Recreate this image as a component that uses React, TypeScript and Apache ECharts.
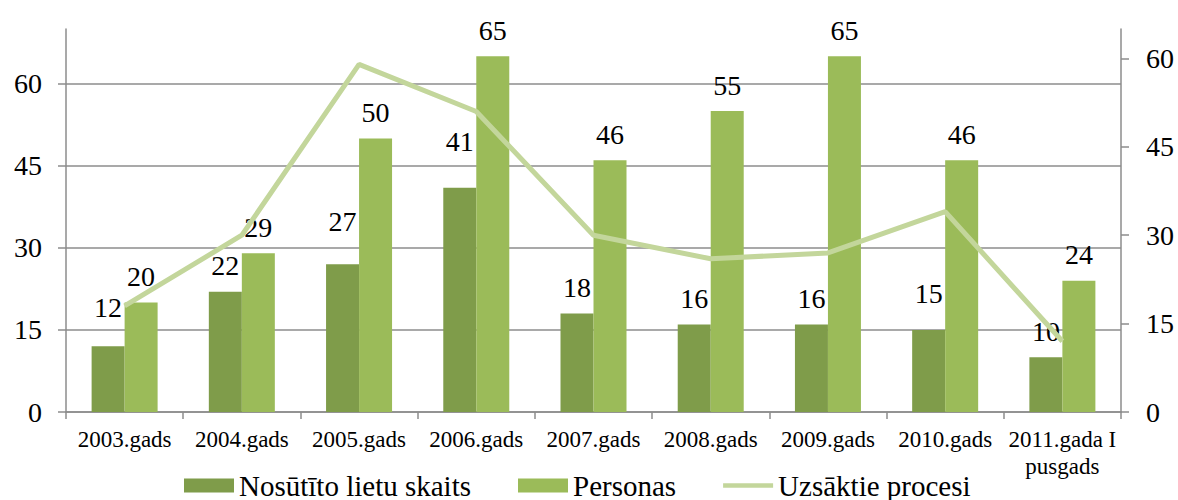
import React, { useEffect, useRef } from "react";
import * as echarts from "echarts";

const categories = [
  "2003.gads",
  "2004.gads",
  "2005.gads",
  "2006.gads",
  "2007.gads",
  "2008.gads",
  "2009.gads",
  "2010.gads",
  "2011.gada I\npusgads",
];
const nosutitoValues = [12, 22, 27, 41, 18, 16, 16, 15, 10];
const personasValues = [20, 29, 50, 65, 46, 55, 65, 46, 24];
const uzsaktieValues = [18, 30, 59, 51, 30, 26, 27, 34, 12];
const leftTicks = { min: 0, max: 70, interval: 15 };
const rightTicks = { min: 0, max: 65, interval: 15 };

const FONT = "Liberation Serif, serif";

export default function App() {
  const ref = useRef<HTMLDivElement>(null);
  useEffect(() => {
    document.body.style.margin = "0";
    const chart = echarts.init(ref.current!, null, { renderer: "svg" });
    const labelLift = [13, 0, 17, 20, 0, 0, 0, 10, 0];
    const axisGray = "#8c8c8c";
    const lineColor = "#c3d69b";
    chart.setOption({
      animation: false,
      textStyle: { fontFamily: FONT, color: "#000" },
      grid: { left: 66, right: 57, top: 29, bottom: 88 },
      legend: {
        left: 184,
        top: 471,
        padding: 0,
        itemWidth: 50,
        itemHeight: 14,
        itemGap: 47,
        textStyle: { fontFamily: FONT, fontSize: 29, color: "#000", lineHeight: 28 },
        data: [
          { name: "Nosūtīto lietu skaits", icon: "rect" },
          { name: "Personas", icon: "rect" },
          {
            name: "Uzsāktie procesi",
            icon: "path://M0,0 L53,0 L53,5 L0,5 Z",
            itemStyle: { color: lineColor },
          },
        ],
      },
      xAxis: {
        type: "category",
        data: categories,
        axisLine: { lineStyle: { color: axisGray, width: 1.5 } },
        axisTick: { show: true, length: 7, alignWithLabel: false, lineStyle: { color: axisGray, width: 1.5 } },
        axisLabel: {
          interval: 0,
          margin: 14,
          fontFamily: FONT,
          fontSize: 23,
          lineHeight: 27,
          color: "#000",
        },
      },
      yAxis: [
        {
          type: "value",
          min: leftTicks.min,
          max: leftTicks.max,
          interval: leftTicks.interval,
          axisLine: { show: true, lineStyle: { color: axisGray, width: 1.5 } },
          axisTick: { show: true, length: 8, lineStyle: { color: axisGray, width: 1.5 } },
          splitLine: { show: true, showMaxLine: false, lineStyle: { color: axisGray, width: 1.5 } },
          axisLabel: { margin: 24, fontFamily: FONT, fontSize: 28, color: "#000", showMaxLabel: false },
        },
        {
          type: "value",
          position: "right",
          min: rightTicks.min,
          max: rightTicks.max,
          interval: rightTicks.interval,
          axisLine: { show: true, lineStyle: { color: axisGray, width: 1.5 } },
          axisTick: { show: true, length: 8, lineStyle: { color: axisGray, width: 1.5 } },
          splitLine: { show: false },
          axisLabel: { margin: 25, fontFamily: FONT, fontSize: 28, color: "#000", showMaxLabel: false },
        },
      ],
      series: [
        {
          name: "Nosūtīto lietu skaits",
          type: "bar",
          yAxisIndex: 0,
          barWidth: 33,
          barGap: "0%",
          itemStyle: { color: "#7f9c4a" },
          label: {
            show: true,
            position: "top",
            distance: 12,
            fontFamily: FONT,
            fontSize: 28,
            color: "#000",
          },
          data: nosutitoValues.map((v, i) => ({
            value: v,
            label: { offset: [0, -labelLift[i]] },
          })),
        },
        {
          name: "Personas",
          type: "bar",
          yAxisIndex: 0,
          barWidth: 33,
          barGap: "0%",
          itemStyle: { color: "#9bbb59" },
          label: {
            show: true,
            position: "top",
            distance: 12,
            fontFamily: FONT,
            fontSize: 28,
            color: "#000",
          },
          data: personasValues,
        },
        {
          name: "Uzsāktie procesi",
          type: "line",
          yAxisIndex: 1,
          symbol: "none",
          showSymbol: false,
          lineStyle: { color: lineColor, width: 5 },
          itemStyle: { color: lineColor },
          data: uzsaktieValues,
          z: 5,
        },
      ],
    });
    return () => chart.dispose();
  }, []);
  return <div ref={ref} style={{ width: 1178, height: 500 }} />;
}
